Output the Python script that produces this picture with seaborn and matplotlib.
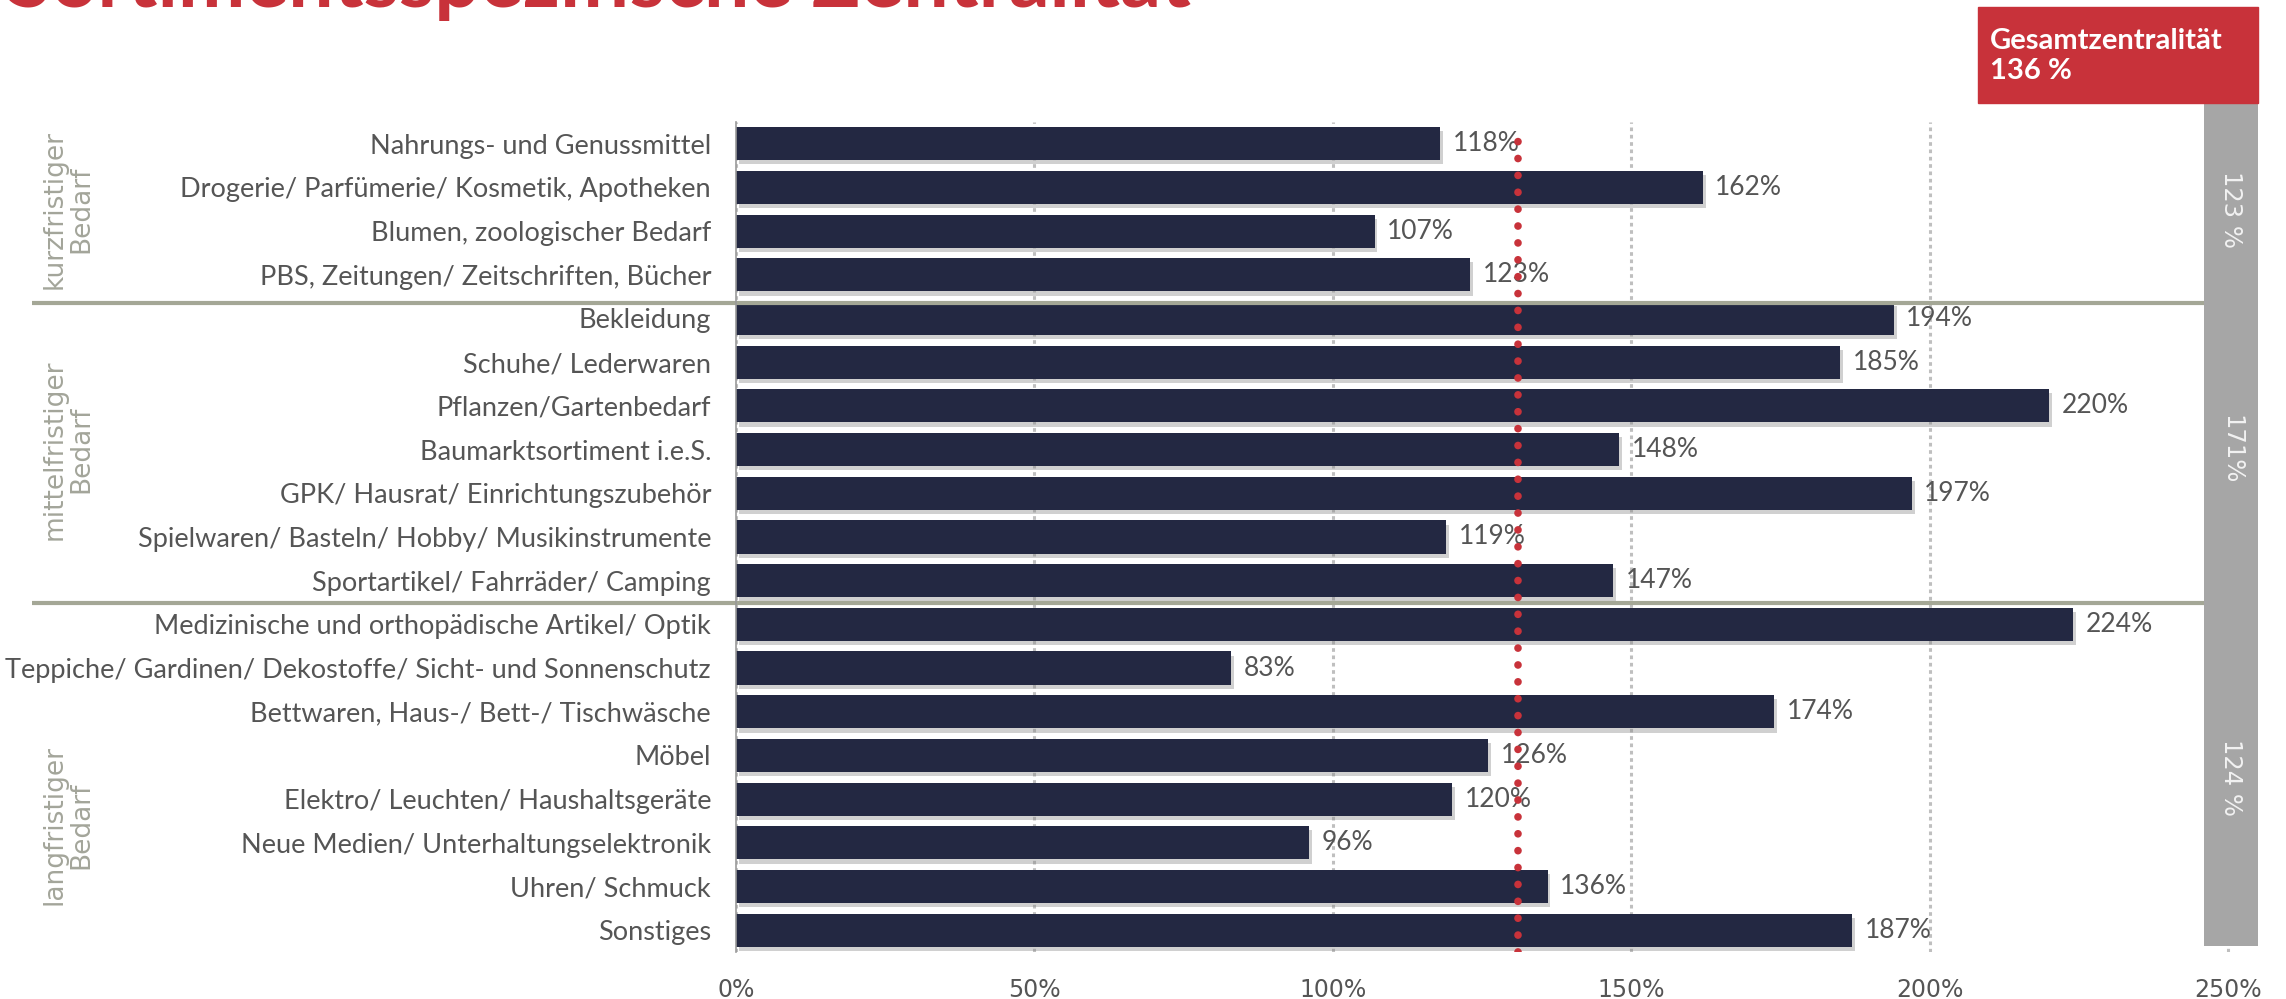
import numpy as np
import pandas as pd
import matplotlib
matplotlib.use("Agg")
import matplotlib.pyplot as plt
import matplotlib.patheffects as pe
from matplotlib.patches import Rectangle
import seaborn as sns

# --- Daten ---
categories = [
    "Nahrungs- und Genussmittel",
    "Drogerie/ Parfümerie/ Kosmetik, Apotheken",
    "Blumen, zoologischer Bedarf",
    "PBS, Zeitungen/ Zeitschriften, Bücher",
    "Bekleidung",
    "Schuhe/ Lederwaren",
    "Pflanzen/Gartenbedarf",
    "Baumarktsortiment i.e.S.",
    "GPK/ Hausrat/ Einrichtungszubehör",
    "Spielwaren/ Basteln/ Hobby/ Musikinstrumente",
    "Sportartikel/ Fahrräder/ Camping",
    "Medizinische und orthopädische Artikel/ Optik",
    "Teppiche/ Gardinen/ Dekostoffe/ Sicht- und Sonnenschutz",
    "Bettwaren, Haus-/ Bett-/ Tischwäsche",
    "Möbel",
    "Elektro/ Leuchten/ Haushaltsgeräte",
    "Neue Medien/ Unterhaltungselektronik",
    "Uhren/ Schmuck",
    "Sonstiges",
]
values = [118, 162, 107, 123, 194, 185, 220, 148, 197, 119, 147,
          224, 83, 174, 126, 120, 96, 136, 187]

group_names = ["kurzfristiger\nBedarf", "mittelfristiger\nBedarf", "langfristiger\nBedarf"]
group_values = ["123 %", "171%", "124 %"]
group_centers = [1.5, 7.0, 14.5]       # Zeilenmitte je Gruppe
group_label_pos = [1.5, 7.0, 15.6]     # Position der Gruppenbeschriftung links
group_separators = [3.65, 10.5]
reference_line = 131
total_label = "Gesamtzentralität\n136 %"
title = "Sortimentsspezifische Zentralität"
xticks = [0, 50, 100, 150, 200, 250]
xtick_labels = ["0%", "50%", "100%", "150%", "200%", "250%"]

df = pd.DataFrame({"kategorie": categories, "wert": values})

# --- Stil ---
sns.set_theme(style="white")
plt.rcParams["font.family"] = ["Lato", "DejaVu Sans"]

navy = "#232842"
red = "#c8323a"
grey_bar = "#a6a6a6"
text_grey = "#555555"
sep_color = "#a4a796"
geo_font = ["DejaVu Sans"]

fig = plt.figure(figsize=(22.86, 9.99), dpi=100)
ax = fig.add_axes([0.322, 0.047, 0.6657, 0.831])

sns.barplot(data=df, x="wert", y="kategorie", color=navy, saturation=1,
            width=0.76, linewidth=0, ax=ax)

# weicher Schatten unter den Balken
for p in ax.patches:
    p.set_path_effects([pe.SimplePatchShadow(offset=(2, -3), shadow_rgbFace="#8a8a8a", alpha=0.4),
                        pe.Normal()])

# Wertbeschriftungen
for i, v in enumerate(values):
    ax.annotate(f"{v}%", xy=(v, i), xytext=(9, 0), textcoords="offset points",
                va="center", ha="left", fontsize=19, color=text_grey)

# Grauer Balken rechts mit Gruppenwerten
ax.bar(x=250.5, height=19.27, bottom=-0.91, width=8.9, color=grey_bar,
       linewidth=0, clip_on=False, zorder=3)
for yc, lab in zip(group_centers, group_values):
    ax.text(250.5, yc, lab, rotation=-90, ha="center", va="center",
            fontsize=17.5, color="#f2f2f2", zorder=4, family=geo_font)

# Referenzlinie (rot gepunktet)
ax.axvline(reference_line, ymin=0, ymax=0.99, color=red, lw=5.5,
           linestyle=(0, (0.01, 2.2)), dash_capstyle="round", zorder=5)

# Trennlinien zwischen den Gruppen
for ys in group_separators:
    ax.plot([-118, 246], [ys, ys], color=sep_color, lw=3, clip_on=False,
            solid_capstyle="butt", zorder=2)

# Gruppenbeschriftungen
for yc, name in zip(group_label_pos, group_names):
    ax.text(-112, yc, name, rotation=90, ha="center", va="center",
            fontsize=19, color="#a3a59a", linespacing=1.05, family=geo_font)

# Achsen
ax.set_xlim(0, 255)
ax.set_ylim(18.5, -0.5)
ax.set_xticks(xticks)
ax.set_xticklabels(xtick_labels, fontsize=17, color=text_grey, family=geo_font)
ax.tick_params(axis="x", length=3, width=2, color="#bfbfbf", pad=16)
ax.tick_params(axis="y", length=0, pad=18, labelsize=19.5, labelcolor=text_grey)
ax.set_xlabel("")
ax.set_ylabel("")

ax.set_axisbelow(True)
ax.xaxis.grid(True, color="#bfbfbf", lw=2.2, linestyle=(0, (1.2, 1.2)))
for s in ["top", "right", "bottom"]:
    ax.spines[s].set_visible(False)
ax.spines["left"].set_color("#999999")
ax.spines["left"].set_linewidth(1.2)

# Titel (oben angeschnitten) und Gesamtzentralität-Box
fig.text(0.003, 0.993, title, color=red, fontsize=58, fontweight="bold", va="baseline")
fig.patches.append(Rectangle((0.8653, 0.897), 0.1225, 0.096,
                             transform=fig.transFigure, color=red, zorder=0))
fig.text(0.8705, 0.944, total_label, color="white", fontsize=21,
         fontweight="bold", va="center", ha="left", linespacing=1.2)

fig.savefig("out.png", dpi=100)
